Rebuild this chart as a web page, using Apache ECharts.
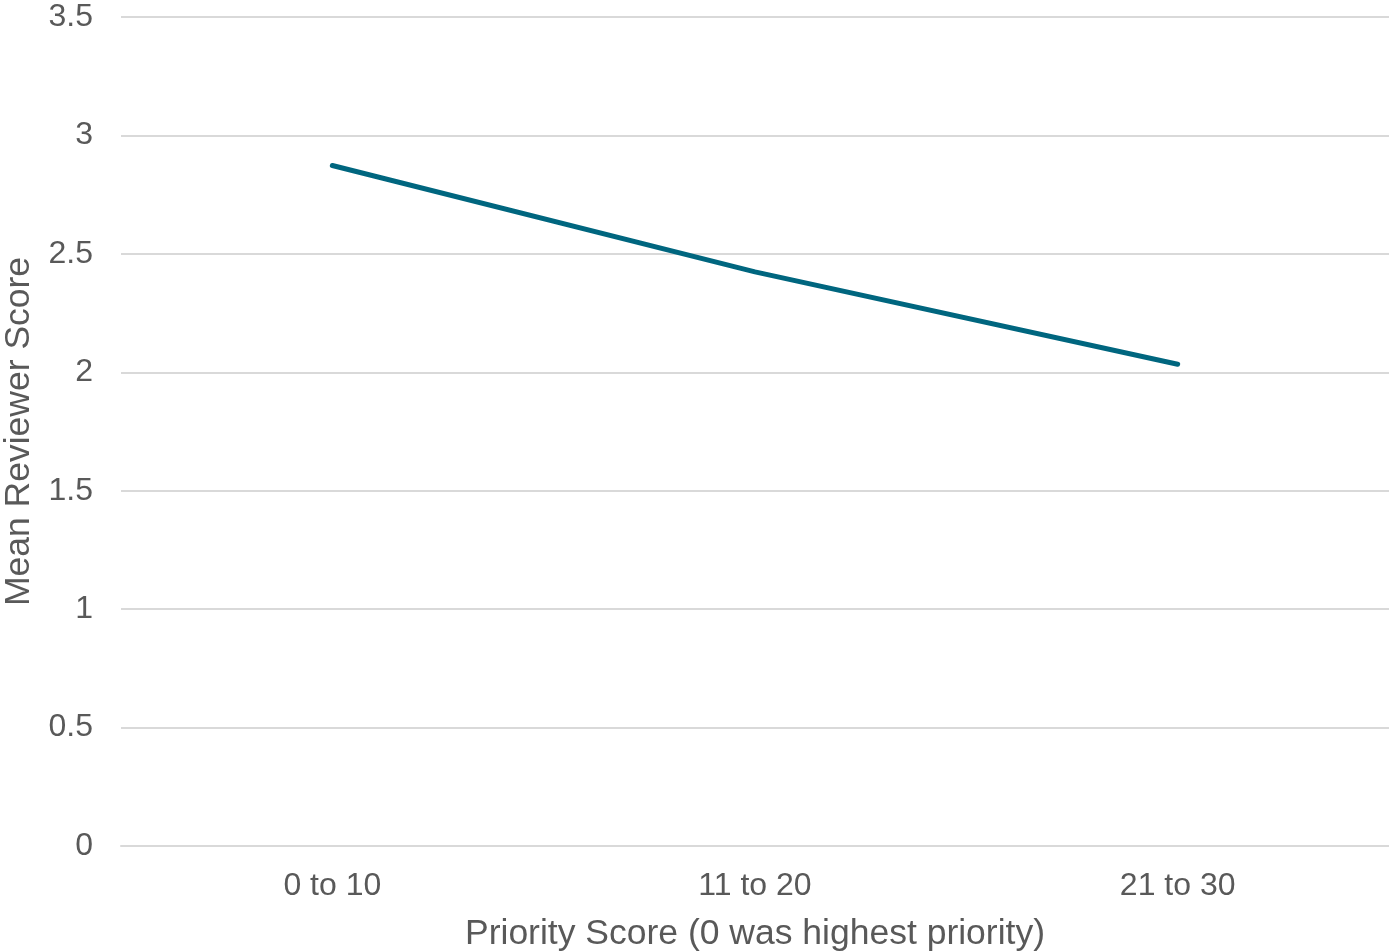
<!DOCTYPE html>
<html>
<head>
<meta charset="utf-8">
<script src="https://cdn.jsdelivr.net/npm/echarts@6/dist/echarts.min.js"></script>
<style>html,body{margin:0;padding:0;background:#fff}#c{width:1389px;height:952px}</style>
</head>
<body>
<div id="c"></div>
<script>
const categories = ['0 to 10', '11 to 20', '21 to 30'];
const meanScores = [2.873, 2.424, 2.034];
const xTitle = 'Priority Score (0 was highest priority)';
const yTitle = 'Mean Reviewer Score';

const chart = echarts.init(document.getElementById('c'));
const font = 'Liberation Sans, Arial, sans-serif';
chart.setOption({
  animation: false,
  grid: { left: 121, right: 0, top: 17, bottom: 106, outerBoundsMode: 'none' },
  xAxis: {
    type: 'category', data: categories, boundaryGap: true,
    name: xTitle, nameLocation: 'middle', nameGap: 70,
    nameTextStyle: { fontFamily: font, fontSize: 35.5, color: '#595959' },
    axisLine: { show: true, lineStyle: { color: '#d9d9d9', width: 2 } },
    axisTick: { show: false },
    axisLabel: { fontFamily: font, fontSize: 32, color: '#595959', margin: 24 }
  },
  yAxis: {
    type: 'value', min: 0, max: 3.5, interval: 0.5,
    name: yTitle, nameLocation: 'middle', nameGap: 79, nameRotate: 90,
    nameTextStyle: { fontFamily: font, fontSize: 35.5, color: '#595959' },
    axisLine: { show: false }, axisTick: { show: false },
    splitLine: { lineStyle: { color: '#d9d9d9', width: 2 } },
    axisLabel: { fontFamily: font, fontSize: 32, color: '#595959', margin: 28 }
  },
  series: [{
    type: 'line', data: meanScores, showSymbol: false, symbol: 'none',
    lineStyle: { color: '#00667f', width: 5, cap: 'round', join: 'round' }
  }]
});
</script>
</body>
</html>
